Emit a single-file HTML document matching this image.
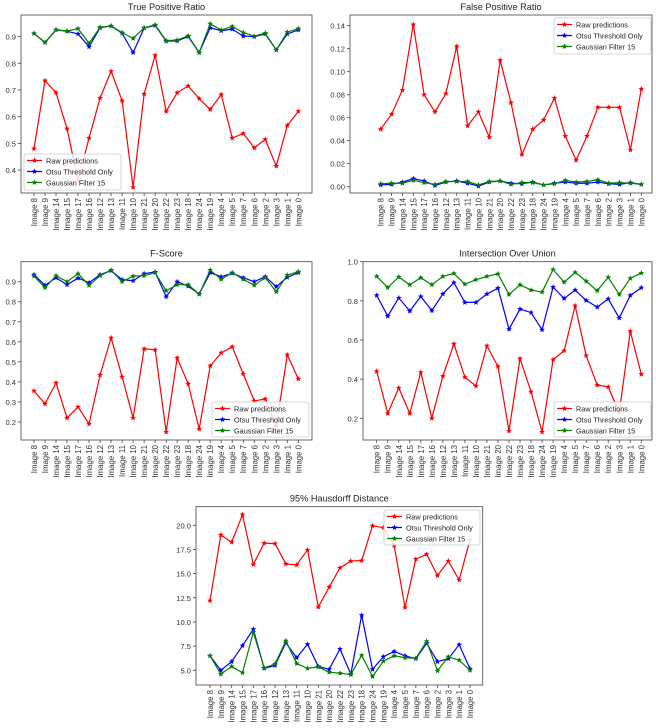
<!DOCTYPE html>
<html><head><meta charset="utf-8"><style>
body{margin:0;background:#fff;font-family:"Liberation Sans",sans-serif}
svg{display:block}
</style></head><body>
<svg id="fig" width="656" height="728" font-family="Liberation Sans, sans-serif"></svg>
<script>
const categories=["Image 8","Image 9","Image 14","Image 15","Image 17","Image 16","Image 12","Image 13","Image 11","Image 10","Image 21","Image 20","Image 22","Image 23","Image 18","Image 24","Image 19","Image 4","Image 5","Image 7","Image 6","Image 2","Image 3","Image 1","Image 0"];
const seriesNames=["Raw predictions","Otsu Threshold Only","Gaussian Filter 15"];
const tprRaw=[0.48,0.735,0.69,0.555,0.36,0.52,0.67,0.77,0.66,0.335,0.685,0.83,0.62,0.69,0.715,0.668,0.627,0.683,0.52,0.537,0.483,0.515,0.415,0.567,0.62];
const tprOtsu=[0.912,0.878,0.925,0.92,0.91,0.862,0.933,0.94,0.913,0.84,0.932,0.942,0.883,0.884,0.9,0.84,0.933,0.922,0.928,0.902,0.9,0.91,0.85,0.91,0.925];
const tprGauss=[0.912,0.878,0.926,0.921,0.93,0.875,0.935,0.94,0.915,0.893,0.933,0.944,0.885,0.887,0.903,0.84,0.948,0.925,0.938,0.915,0.902,0.913,0.85,0.917,0.93];
const fprRaw=[0.050,0.063,0.084,0.141,0.080,0.065,0.081,0.122,0.053,0.065,0.043,0.110,0.073,0.028,0.050,0.058,0.077,0.044,0.023,0.044,0.069,0.069,0.069,0.032,0.085];
const fprOtsu=[0.0015,0.002,0.004,0.007,0.005,0.001,0.004,0.005,0.003,0.0005,0.004,0.005,0.003,0.0025,0.004,0.0015,0.003,0.004,0.003,0.003,0.004,0.0025,0.002,0.0035,0.002];
const fprGauss=[0.0025,0.003,0.003,0.0055,0.0035,0.002,0.0045,0.0045,0.0045,0.0015,0.0045,0.005,0.002,0.0035,0.0035,0.0015,0.0025,0.0055,0.004,0.0045,0.006,0.003,0.0035,0.003,0.002];
const fRaw=[0.355,0.29,0.395,0.22,0.275,0.19,0.435,0.62,0.425,0.22,0.565,0.56,0.15,0.52,0.39,0.165,0.48,0.545,0.575,0.44,0.305,0.315,0.18,0.535,0.415];
const fOtsu=[0.935,0.882,0.92,0.885,0.918,0.895,0.935,0.955,0.91,0.905,0.94,0.948,0.825,0.9,0.878,0.838,0.945,0.925,0.942,0.92,0.9,0.925,0.875,0.922,0.945];
const fGauss=[0.928,0.87,0.93,0.9,0.94,0.882,0.93,0.958,0.9,0.928,0.93,0.945,0.855,0.885,0.885,0.838,0.958,0.912,0.945,0.912,0.882,0.92,0.85,0.933,0.95];
const iouRaw=[0.44,0.225,0.355,0.225,0.435,0.2,0.415,0.58,0.41,0.365,0.57,0.465,0.135,0.505,0.335,0.13,0.5,0.545,0.775,0.52,0.37,0.36,0.23,0.645,0.425];
const iouOtsu=[0.828,0.722,0.815,0.748,0.822,0.75,0.835,0.893,0.792,0.792,0.835,0.865,0.655,0.758,0.74,0.652,0.87,0.812,0.855,0.802,0.768,0.81,0.712,0.828,0.867];
const iouGauss=[0.925,0.868,0.922,0.882,0.918,0.882,0.925,0.94,0.885,0.908,0.925,0.938,0.832,0.882,0.855,0.845,0.96,0.895,0.945,0.9,0.852,0.92,0.832,0.915,0.942];
const hdRaw=[12.2,19.0,18.25,21.1,15.95,18.15,18.1,16.0,15.9,17.45,11.55,13.6,15.6,16.3,16.35,19.95,19.75,17.9,11.5,16.5,17.0,14.8,16.3,14.35,18.5];
const hdOtsu=[6.5,5.0,5.9,7.55,9.25,5.2,5.5,7.85,6.3,7.7,5.4,5.1,7.2,4.6,10.7,5.1,6.4,6.95,6.5,6.2,7.8,5.9,6.2,7.65,5.15];
const hdGauss=[6.5,4.6,5.4,4.75,8.95,5.25,5.65,8.05,5.7,5.2,5.35,4.8,4.7,4.55,6.55,4.35,5.95,6.5,6.3,6.25,8.0,4.95,6.4,6.05,5.0];
const tprTicks=[0.4,0.5,0.6,0.7,0.8,0.9];
const fprTicks=[0,0.02,0.04,0.06,0.08,0.10,0.12,0.14];
const fTicks=[0.2,0.3,0.4,0.5,0.6,0.7,0.8,0.9];
const iouTicks=[0.2,0.4,0.6,0.8,1.0];
const hdTicks=[5,7.5,10,12.5,15,17.5,20];

const NS="http://www.w3.org/2000/svg";
const svg=document.getElementById('fig');
const colors=["#ff0000","#0000ff","#008000"];
function mk(tag,attrs,parent){const e=document.createElementNS(NS,tag);for(const k in attrs)e.setAttribute(k,attrs[k]);(parent||svg).appendChild(e);return e;}
function star(cx,cy,r){let p=[];for(let i=0;i<10;i++){const a=-Math.PI/2+i*Math.PI/5;const rr=i%2?r*0.45:r;p.push((cx+rr*Math.cos(a)).toFixed(2)+","+(cy+rr*Math.sin(a)).toFixed(2));}return p.join(" ");}

function drawChart(c){
  const g=mk('g',{});
  
  
  const n=categories.length;
  const xs=i=>c.px0+(c.px1-c.px0)*i/(n-1);
  const ys=v=>c.bottom-(v-c.ymin)/(c.ymax-c.ymin)*(c.bottom-c.top);
  const t=mk('text',{x:(c.left+c.right)/2,y:c.top-5,'text-anchor':'middle','font-size':9.2,fill:'#222'},g);
  t.textContent=c.title;
  
  
  const frame=mk('rect',{x:c.left,y:c.top,width:c.right-c.left,height:c.bottom-c.top,fill:'none',stroke:'#444','stroke-width':0.8},g);
  
  
  c.ticks.forEach(v=>{const y=ys(v);
    mk('line',{x1:c.left-3,x2:c.left,y1:y,y2:y,stroke:'#444','stroke-width':0.8},g);
    const tl=mk('text',{x:c.left-5,y:y+3,'text-anchor':'end','font-size':7.6,fill:'#333'},g);
    tl.textContent=v.toFixed(c.dec);
    
    
  });
  categories.forEach((cat,i)=>{const x=xs(i);
    mk('line',{x1:x,x2:x,y1:c.bottom,y2:c.bottom+3,stroke:'#444','stroke-width':0.8},g);
    const tl=mk('text',{x:0,y:0,'text-anchor':'end','font-size':7.8,fill:'#333',transform:`translate(${x+3},${c.bottom+5}) rotate(-90)`},g);
    tl.textContent=cat;
    
    
  });
  c.series.forEach((arr,s)=>{
    const pts=arr.map((v,i)=>xs(i).toFixed(2)+","+ys(v).toFixed(2)).join(" ");
    const pl=mk('polyline',{points:pts,fill:'none',stroke:colors[s],'stroke-width':1.2},g);
    
    
    arr.forEach((v,i)=>{
      const m=mk('polygon',{points:star(xs(i),ys(v),3),fill:colors[s]},g);
      
      
    });
  });
  const L=c.legend;
  const lg=mk('g',{},g);
  
  
  mk('rect',{x:L.x,y:L.y,width:L.w,height:L.h,fill:'#fff','fill-opacity':0.85,stroke:'#ccc','stroke-width':0.8,rx:2},lg);
  seriesNames.forEach((nm,s)=>{const y=L.y+6.5+s*11;
    mk('line',{x1:L.x+3,x2:L.x+18,y1:y,y2:y,stroke:colors[s],'stroke-width':1.2},lg);
    mk('polygon',{points:star(L.x+10.5,y,3),fill:colors[s]},lg);
    const tx=mk('text',{x:L.x+22,y:y+2.8,'font-size':7.3,fill:'#222'},lg);
    tx.textContent=nm;
    
    
  });
}
drawChart({name:'true-positive-ratio-chart',title:'True Positive Ratio',left:21,right:312,top:15,bottom:193,px0:34,px1:298.3,ymin:0.314,ymax:0.981,ticks:tprTicks,dec:1,series:[tprRaw,tprOtsu,tprGauss],legend:{x:24,y:154,w:97,h:36}});
drawChart({name:'false-positive-ratio-chart',title:'False Positive Ratio',left:350,right:652,top:15,bottom:193,px0:380.7,px1:641.3,ymin:-0.0055,ymax:0.1493,ticks:fprTicks,dec:2,series:[fprRaw,fprOtsu,fprGauss],legend:{x:554,y:18,w:97,h:36}});
drawChart({name:'f-score-chart',title:'F-Score',left:21,right:312,top:261.7,bottom:440,px0:34,px1:298.3,ymin:0.110,ymax:0.9998,ticks:fTicks,dec:1,series:[fRaw,fOtsu,fGauss],legend:{x:212,y:402,w:97,h:35}});
drawChart({name:'intersection-over-union-chart',title:'Intersection Over Union',left:363,right:652,top:261.7,bottom:440,px0:376.7,px1:641.3,ymin:0.089,ymax:1.0,ticks:iouTicks,dec:1,series:[iouRaw,iouOtsu,iouGauss],legend:{x:554,y:402,w:97,h:35}});
drawChart({name:'hausdorff-distance-chart',title:'95% Hausdorff Distance',left:196,right:482.7,top:506.7,bottom:685,px0:210,px1:470,ymin:3.48,ymax:21.92,ticks:hdTicks,dec:1,series:[hdRaw,hdOtsu,hdGauss],legend:{x:384,y:510,w:96,h:35}});
</script>
</body></html>
